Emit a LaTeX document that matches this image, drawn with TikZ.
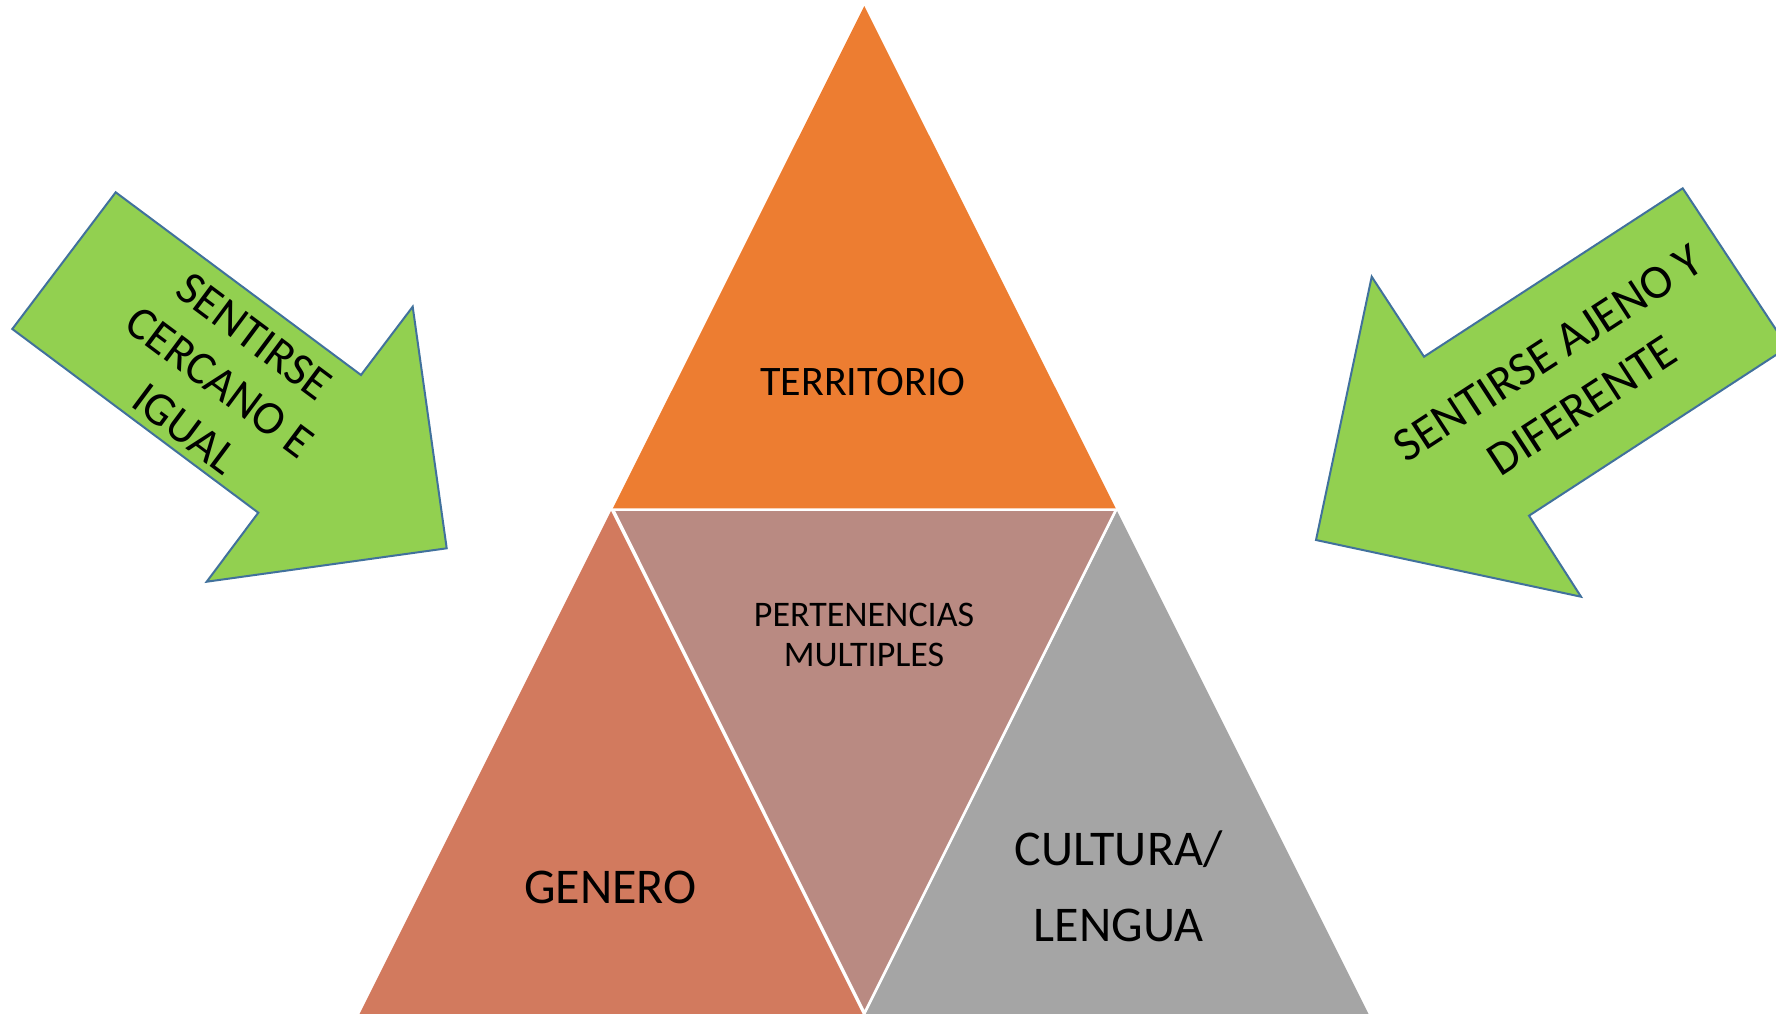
\documentclass[tikz,border=0pt]{standalone}
\usepackage{fontspec}
\setmainfont{Carlito}
\definecolor{torange}{HTML}{ED7D31}
\definecolor{tmid}{HTML}{B98A82}
\definecolor{tleft}{HTML}{D27A5E}
\definecolor{tgrey}{HTML}{A5A5A5}
\definecolor{agreen}{HTML}{92D050}
\definecolor{ablue}{HTML}{41719C}
\begin{document}
\begin{tikzpicture}[x=1pt,y=-1pt,
  sep/.style={draw=white,line width=2.5pt,line join=miter},
  arrowshape/.style={fill=agreen,draw=ablue,line width=2pt,line join=miter},
  lbl/.style={anchor=base,inner sep=0pt,text=black},
  blk/.style={anchor=center,inner sep=0pt,text=black,align=center}]
\useasboundingbox (0,0) rectangle (1776,1013);
\clip (0,0) rectangle (1776,1013);
% triangles
\fill[torange] (864.3,6) -- (612.3,509.5) -- (1116.3,509.5) -- cycle;
\fill[tleft] (611,511) -- (346.5,1040) -- (875.5,1040) -- cycle;
\fill[tgrey] (1117,511) -- (852.5,1040) -- (1381.5,1040) -- cycle;
\path[sep,fill=tmid] (613,509.5) -- (1116,509.5) -- (864.5,1013) -- cycle;
% left arrow
\path[arrowshape] (115.7,192.3) -- (361,375) -- (412.7,306.7) -- (446.7,548.3)
  -- (206.7,581.7) -- (258.3,512.7) -- (12.3,329) -- cycle;
% right arrow
\path[arrowshape] (1682.7,188.3) -- (1787.7,347.3) -- (1529,515.7) -- (1581,596.7)
  -- (1316,540) -- (1371.7,276.7) -- (1424,356.7) -- cycle;
% labels
\node[lbl,font=\fontsize{42}{50}\selectfont] (territorio) at (863,395) {TERRITORIO};
\node[lbl,font=\fontsize{36}{42}\selectfont] (pert1) at (864,626) {PERTENENCIAS};
\node[lbl,font=\fontsize{36}{42}\selectfont] (pert2) at (864,666.7) {MULTIPLES};
\node[lbl,font=\fontsize{50}{60}\selectfont] (genero) at (610.5,903.3) {GENERO};
\node[lbl,font=\fontsize{50}{60}\selectfont] (cult1) at (1118.5,865) {CULTURA/};
\node[lbl,font=\fontsize{50}{60}\selectfont] (cult2) at (1118.5,941.7) {LENGUA};
\node[blk,font=\fontsize{47}{57.7}\selectfont,rotate=-36.7] (cerca) at (219.9,382.6)
  {SENTIRSE\\CERCANO E\\IGUAL};
\node[blk,font=\fontsize{48}{62.7}\selectfont,rotate=33.06] (ajeno) at (1565.2,379.2)
  {SENTIRSE AJENO Y\\DIFERENTE};
\end{tikzpicture}
\end{document}
